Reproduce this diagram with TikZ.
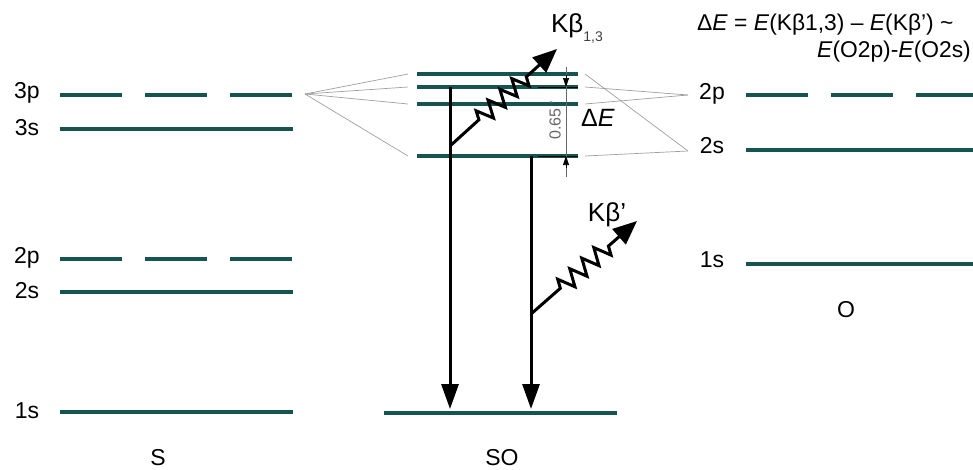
\documentclass[tikz,border=0pt]{standalone}
\usepackage{fontspec}
\setmainfont{Liberation Sans}
\usetikzlibrary{arrows.meta,decorations.pathmorphing}
\definecolor{levelteal}{RGB}{22,84,80}
\begin{document}
\begin{tikzpicture}[x=1pt,y=-1pt, every node/.style={font=\fontsize{23}{27}\selectfont,inner sep=0pt},
  level/.style={draw=levelteal,line width=3.6pt},
  dashlevel/.style={level,dash pattern=on 62pt off 23pt},
  link/.style={draw=gray!75,line width=0.7pt},
  trans/.style={draw=black,line width=3pt,-{Triangle[length=25pt,width=17pt]}},
  photon/.style={draw=black,line width=3pt,-{Triangle[length=24pt,width=20pt]},decorate,
    decoration={zigzag,segment length=16pt,amplitude=8.5pt,pre length=39pt,post length=37pt}}]
\useasboundingbox (0,0) rectangle (973,469);
% S levels
\draw[dashlevel] (60,95) coordinate (S3pL) -- (293,95) coordinate (S3pR);
\draw[dashlevel] (60,259) coordinate (S2pL) -- (293,259) coordinate (S2pR);
\foreach \nm/\y in {3s/129,2s/292,1s/412}
  \draw[level] (60,\y) coordinate (S\nm L) -- (293,\y) coordinate (S\nm R);
\foreach \nm/\y in {3p/93,3s/128,2p/258,2s/291,1s/411}
  \node (lab\nm) at (27,\y) {\nm};
\node (labS) at (158,458) {S};
% SO levels
\foreach \nm/\y in {a/74,b/87,c/104,d/156}{
  \draw[level] (417,\y) coordinate (SO\nm L) -- (578,\y) coordinate (SO\nm R);
  \coordinate (in\nm) at (408,\y);
  \coordinate (out\nm) at (585,\y);}
\draw[level] (384,413) coordinate (SO1sL) -- (617,413) coordinate (SO1sR);
\node (labSO) at (502,458) {SO};
% O levels
\draw[dashlevel] (746,95) coordinate (O2pL) -- (980,95) coordinate (O2pR);
\draw[level] (746,150) coordinate (O2sL) -- (980,150) coordinate (O2sR);
\draw[level] (746,264) coordinate (O1sL) -- (980,264) coordinate (O1sR);
\node (labO2p) at (712,94) {2p};
\node (labO2s) at (712,146) {2s};
\node (labO1s) at (712,260) {1s};
\node (labO) at (846,310) {O};
% mixing lines
\coordinate (S3pE) at (305,94);
\coordinate (O2pE) at (688,95);
\coordinate (O2sE) at (688,151);
\foreach \nm in {a,b,c,d} \draw[link] (S3pE) -- (in\nm);
\draw[link] (outa) -- (O2sE);
\draw[link] (outb) -- (O2pE);
\draw[link] (outc) -- (O2pE);
\draw[link] (outd) -- (O2sE);
% transitions
\coordinate (trA) at (450,409);
\coordinate (trB) at (531,409);
\draw[trans] (450,87) -- (trA);
\draw[trans] (SOdL -| trB) -- (trB);
\coordinate (emA) at (450,146);
\coordinate (tipA) at (557,49);
\coordinate (emB) at (531,314);
\coordinate (tipB) at (637,221);
\draw[photon] (emA) -- (tipA);
\draw[photon] (emB) -- (tipB);
\node[font=\fontsize{26}{30}\selectfont] (kb13) at (577,28) {Kβ{\fontsize{14}{14}\selectfont\color{black!75}\raisebox{-9pt}{1,3}}};
\node[font=\fontsize{26}{30}\selectfont] (kbp) at (607,215) {Kβ’};
% energy gap
\draw[black,line width=1pt] (538,87) -- (578,87);
\draw[black,line width=1pt] (538,156) -- (578,156);
\coordinate (dimT) at (566,67);
\coordinate (dimB) at (566,177);
\draw[gray!80!black,line width=0.6pt] (dimT) -- (dimB);
\draw[black,line width=0.6pt,-{Triangle[length=9pt,width=6pt]}] (566,75) -- (566,87);
\draw[black,line width=0.6pt,-{Triangle[length=9pt,width=6pt]}] (566,168) -- (566,156);
\node[rotate=90,text=gray!80!black,font=\fontsize{16}{16}\selectfont] (gap) at (555,120) {0.65 ’};
\node[font=\fontsize{25}{29}\selectfont] (dE) at (598,118) {Δ\textit{E}};
% formula
\node[anchor=west,font=\fontsize{22.8}{27}\selectfont] (eqA) at (697,25)
  {Δ\textit{E} = \textit{E}(Kβ1,3) – \textit{E}(Kβ’) \textasciitilde};
\node[anchor=east,font=\fontsize{22.8}{27}\selectfont] (eqB) at (971,52)
  {\textit{E}(O2p)-\textit{E}(O2s)};
\end{tikzpicture}
\end{document}
